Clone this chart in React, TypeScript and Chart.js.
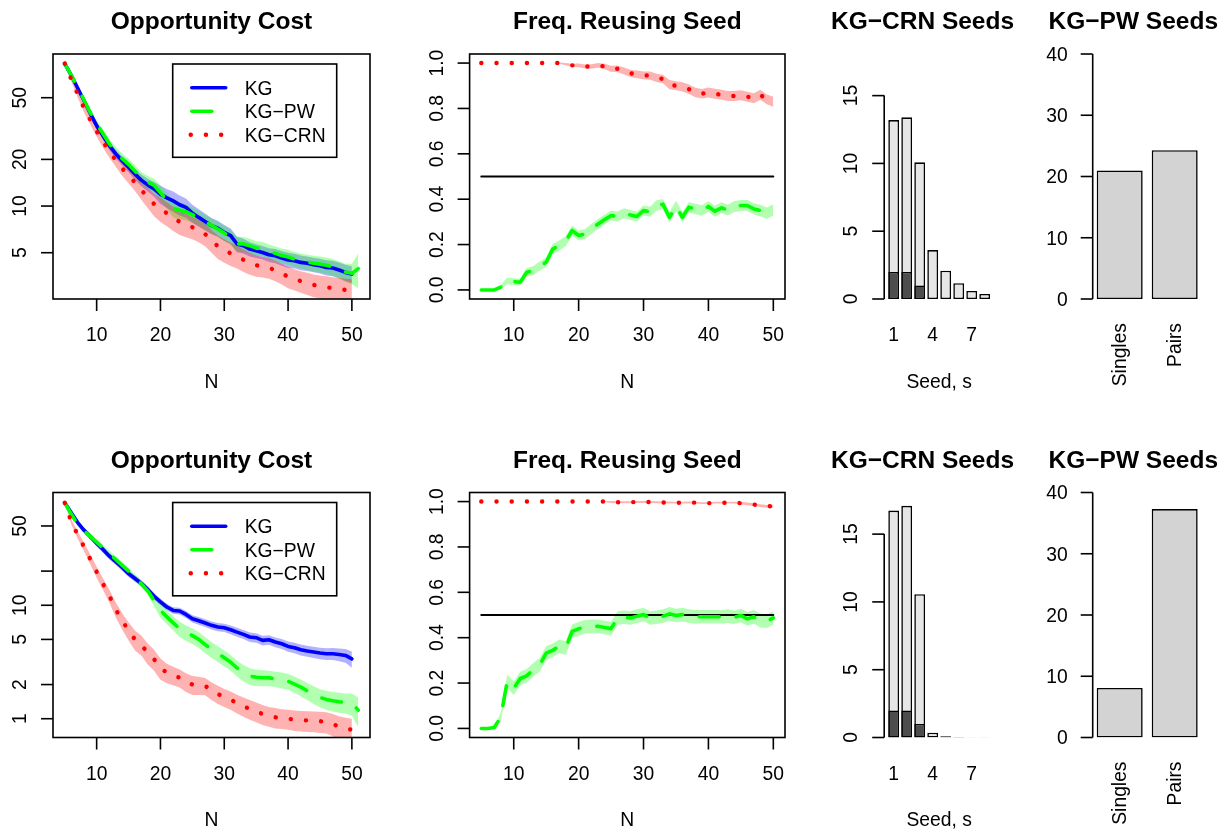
import React, { useEffect, useRef } from "react";
import { Chart, registerables } from "chart.js";

Chart.register(...registerables);

const W = 1229;
const H = 830;
const FAMILY = '"Liberation Sans", Arial, Helvetica, sans-serif';
const TICK_SIZE = 19.3;
const TITLE_SIZE = 24.5;
const ROW_SHIFT = 438.5;
const TICK_LEN = 12;
const AXIS_LW = 1.6;
const LINE_W = 3.6;
const DOT_W = 4.4;
const BAR_LW = 1.6;
const DASH = [20, 17];
const DOT = [0.1, 15.1];

// ---------------- data ----------------
const nKG = [5, 6, 7, 8, 9, 10, 11, 12, 13, 14, 15, 16, 17, 18, 19, 20, 21, 22, 23, 24, 25, 26, 27, 28, 29, 30, 31, 32, 33, 34, 35, 36, 37, 38, 39, 40, 41, 42, 43, 44, 45, 46, 47, 48, 49, 50];
const nPW = [5, 6, 7, 8, 9, 10, 11, 12, 13, 14, 15, 16, 17, 18, 19, 20, 21, 22, 23, 24, 25, 26, 27, 28, 29, 30, 31, 32, 33, 34, 35, 36, 37, 38, 39, 40, 41, 42, 43, 44, 45, 46, 47, 48, 49, 50, 51];

// Row 1: opportunity cost
const kgTop = [83, 70, 58, 48, 39.5, 33, 28.4, 24.5, 21.7, 19.6, 17.8, 16.1, 14.7, 13.7, 12.9, 11.9, 11.3, 10.8, 10.2, 9.8, 9.0, 8.45, 7.96, 7.47, 7.2, 6.76, 6.44, 5.69, 5.55, 5.28, 5.15, 5.02, 4.85, 4.78, 4.62, 4.49, 4.44, 4.33, 4.27, 4.19, 4.12, 4.02, 3.98, 3.87, 3.73, 3.64];
const kgTopSe = [0, 1.5, 2.2, 2.2, 2.0, 1.8, 1.6, 1.5, 1.4, 1.35, 1.3, 1.3, 1.3, 1.3, 1.4, 1.6, 1.6, 1.6, 1.5, 1.4, 1.2, 1.1, 1.0, 0.9, 0.85, 0.8, 0.72, 0.65, 0.6, 0.55, 0.52, 0.5, 0.5, 0.5, 0.5, 0.5, 0.48, 0.47, 0.46, 0.45, 0.45, 0.45, 0.45, 0.45, 0.45, 0.45];
const pwTop = [83, 70, 58.5, 48.5, 40, 34, 29.3, 25.2, 22.3, 20.2, 18.6, 16.8, 15.2, 14.3, 13.6, 12.2, 10.9, 9.7, 9.4, 9.2, 8.8, 8.4, 7.9, 7.5, 7.1, 6.7, 6.3, 5.7, 5.7, 5.55, 5.35, 5.3, 5.1, 4.95, 4.8, 4.7, 4.55, 4.45, 4.35, 4.28, 4.22, 4.15, 4.05, 3.9, 3.75, 3.68, 3.95];
const pwTopSe = [0, 1.5, 2.4, 2.4, 2.3, 2.1, 1.9, 1.8, 1.7, 1.6, 1.6, 1.5, 1.4, 1.4, 1.4, 1.4, 1.3, 1.25, 1.2, 1.1, 1.0, 0.95, 0.9, 0.85, 0.8, 0.75, 0.7, 0.65, 0.62, 0.6, 0.58, 0.56, 0.55, 0.54, 0.53, 0.52, 0.51, 0.5, 0.5, 0.5, 0.5, 0.5, 0.5, 0.5, 0.5, 0.55, 1.0];
const crnTop = [83, 66, 53, 43, 36, 30.4, 26, 22.5, 19.8, 17.5, 15.8, 14.2, 12.7, 11.4, 10.3, 9.6, 9.0, 8.4, 7.9, 7.6, 7.3, 7.0, 6.6, 6.0, 5.5, 5.2, 4.95, 4.75, 4.5, 4.3, 4.15, 4.08, 4.0, 3.85, 3.68, 3.5, 3.38, 3.28, 3.19, 3.1, 3.05, 3.0, 2.95, 2.91, 2.88, 2.85];
const crnTopSe = [0, 2, 2.5, 2.5, 2.4, 2.3, 2.2, 2.0, 1.9, 1.8, 1.75, 1.7, 1.7, 1.7, 1.7, 1.7, 1.6, 1.5, 1.4, 1.3, 1.2, 1.15, 1.1, 1.0, 0.95, 0.9, 0.85, 0.8, 0.75, 0.7, 0.65, 0.62, 0.6, 0.58, 0.56, 0.55, 0.53, 0.52, 0.52, 0.52, 0.52, 0.52, 0.52, 0.52, 0.52, 0.52];

// Row 2: opportunity cost
const kgBot = [80, 65.6, 53.8, 46, 40.3, 35.2, 31, 27.1, 24.2, 21.5, 19, 17.2, 15.6, 13.8, 12.0, 10.7, 9.66, 9.0, 8.9, 8.3, 7.6, 7.3, 6.97, 6.65, 6.43, 6.34, 6.09, 5.8, 5.54, 5.25, 5.18, 4.9, 4.97, 4.74, 4.58, 4.34, 4.22, 4.05, 3.95, 3.87, 3.79, 3.74, 3.74, 3.68, 3.61, 3.37];
const kgBotSe = [0, 2.0, 2.5, 2.5, 2.5, 2.3, 2.0, 1.8, 1.6, 1.4, 1.25, 1.1, 1.0, 0.9, 0.8, 0.7, 0.65, 0.6, 0.6, 0.58, 0.57, 0.56, 0.55, 0.55, 0.54, 0.54, 0.53, 0.52, 0.5, 0.5, 0.5, 0.48, 0.48, 0.47, 0.46, 0.45, 0.45, 0.45, 0.44, 0.44, 0.44, 0.44, 0.45, 0.47, 0.5, 0.55];
const pwBot = [80, 64, 52, 45.5, 40.5, 36, 32, 28.5, 25.3, 22.5, 20, 17.6, 15.5, 13.4, 11.0, 9.0, 7.9, 7.0, 6.2, 5.75, 5.4, 5.0, 4.5, 4.1, 3.75, 3.45, 3.15, 2.8, 2.55, 2.38, 2.32, 2.3, 2.29, 2.25, 2.2, 2.14, 2.02, 1.9, 1.76, 1.64, 1.54, 1.48, 1.44, 1.41, 1.39, 1.37, 1.19];
const pwBotSe = [0, 1.5, 2, 2.2, 2.2, 2.0, 1.9, 1.8, 1.6, 1.5, 1.3, 1.2, 1.1, 1.0, 1.2, 1.2, 1.1, 1.0, 0.95, 0.9, 0.85, 0.8, 0.72, 0.65, 0.6, 0.55, 0.5, 0.45, 0.42, 0.4, 0.38, 0.37, 0.36, 0.35, 0.35, 0.34, 0.33, 0.32, 0.3, 0.29, 0.28, 0.28, 0.28, 0.28, 0.28, 0.3, 0.35];
const crnBot = [80, 55, 42, 33, 25.5, 19.7, 15.4, 12.1, 9.2, 7.3, 6.0, 5.0, 4.5, 3.8, 3.35, 2.8, 2.55, 2.42, 2.3, 2.12, 2.0, 1.98, 1.95, 1.78, 1.65, 1.55, 1.47, 1.37, 1.29, 1.22, 1.16, 1.1, 1.06, 1.03, 1.01, 1.0, 0.98, 0.97, 0.965, 0.96, 0.95, 0.94, 0.9, 0.85, 0.82, 0.8];
const crnBotSe = [0, 3, 3, 2.8, 2.5, 2.2, 1.8, 1.6, 1.4, 1.2, 1.1, 1.0, 0.9, 0.8, 0.7, 0.6, 0.5, 0.45, 0.42, 0.4, 0.38, 0.36, 0.34, 0.32, 0.3, 0.28, 0.27, 0.26, 0.25, 0.24, 0.23, 0.22, 0.21, 0.21, 0.2, 0.2, 0.2, 0.2, 0.2, 0.2, 0.2, 0.2, 0.2, 0.2, 0.2, 0.2];

// Frequency of reusing a seed
const crnFreqTop = [1, 1, 1, 1, 1, 1, 1, 1, 1, 1, 1, 1, 1, 0.995, 0.99, 0.99, 0.985, 0.985, 0.99, 0.985, 0.975, 0.975, 0.965, 0.955, 0.95, 0.946, 0.945, 0.935, 0.93, 0.905, 0.9, 0.895, 0.885, 0.87, 0.865, 0.87, 0.865, 0.86, 0.855, 0.855, 0.858, 0.852, 0.845, 0.86, 0.84, 0.83];
const crnFreqTopSe = [0, 0, 0, 0, 0, 0, 0, 0, 0, 0, 0, 0, 0.003, 0.005, 0.007, 0.008, 0.009, 0.01, 0.01, 0.012, 0.013, 0.014, 0.015, 0.016, 0.017, 0.017, 0.018, 0.018, 0.019, 0.02, 0.02, 0.02, 0.021, 0.021, 0.021, 0.022, 0.022, 0.022, 0.022, 0.022, 0.022, 0.022, 0.022, 0.022, 0.022, 0.022];
const pwFreqTop = [0, 0, 0, 0.012, 0.04, 0.037, 0.034, 0.078, 0.085, 0.105, 0.122, 0.18, 0.196, 0.215, 0.262, 0.24, 0.247, 0.27, 0.291, 0.31, 0.328, 0.324, 0.338, 0.33, 0.324, 0.35, 0.345, 0.372, 0.378, 0.32, 0.37, 0.32, 0.365, 0.357, 0.35, 0.368, 0.347, 0.362, 0.352, 0.368, 0.372, 0.372, 0.357, 0.35, 0.338, 0.353];
const pwFreqTopSe = [0, 0, 0.003, 0.01, 0.015, 0.015, 0.015, 0.018, 0.02, 0.02, 0.021, 0.022, 0.022, 0.022, 0.022, 0.022, 0.022, 0.022, 0.022, 0.022, 0.022, 0.022, 0.022, 0.022, 0.022, 0.022, 0.022, 0.023, 0.023, 0.023, 0.023, 0.023, 0.023, 0.023, 0.023, 0.023, 0.024, 0.024, 0.024, 0.024, 0.024, 0.024, 0.025, 0.025, 0.025, 0.025];
const crnFreqBot = [1, 1, 1, 1, 1, 1, 1, 1, 1, 1, 1, 1, 1, 1, 1, 1, 1, 1, 1, 1, 0.998, 0.997, 0.997, 0.997, 0.998, 0.998, 0.998, 0.997, 0.996, 0.996, 0.995, 0.995, 0.996, 0.995, 0.993, 0.993, 0.995, 0.995, 0.995, 0.995, 0.993, 0.99, 0.987, 0.982, 0.979, 0.98];
const crnFreqBotSe = [0, 0, 0, 0, 0, 0, 0, 0, 0, 0, 0, 0, 0, 0, 0, 0, 0, 0, 0, 0.002, 0.004, 0.004, 0.004, 0.004, 0.004, 0.004, 0.004, 0.004, 0.004, 0.004, 0.004, 0.004, 0.004, 0.004, 0.004, 0.004, 0.004, 0.004, 0.004, 0.004, 0.006, 0.006, 0.006, 0.006, 0.006, 0.006];
const pwFreqBot = [0, 0, 0.004, 0.05, 0.207, 0.177, 0.22, 0.232, 0.258, 0.28, 0.332, 0.344, 0.362, 0.354, 0.428, 0.439, 0.448, 0.45, 0.45, 0.445, 0.44, 0.487, 0.49, 0.487, 0.495, 0.502, 0.487, 0.49, 0.495, 0.505, 0.498, 0.502, 0.495, 0.492, 0.492, 0.492, 0.492, 0.492, 0.495, 0.49, 0.498, 0.483, 0.492, 0.475, 0.473, 0.487];
const pwFreqBotSe = [0, 0, 0.005, 0.02, 0.03, 0.03, 0.03, 0.03, 0.03, 0.03, 0.03, 0.03, 0.03, 0.03, 0.03, 0.03, 0.03, 0.03, 0.03, 0.03, 0.03, 0.03, 0.03, 0.03, 0.03, 0.03, 0.03, 0.03, 0.03, 0.03, 0.03, 0.03, 0.03, 0.03, 0.03, 0.03, 0.03, 0.03, 0.03, 0.03, 0.03, 0.03, 0.03, 0.03, 0.03, 0.03];
const halfLine = [0.5, 0.5];
const halfLineN = [5, 50];

// Seeds
const seedCategories = ["1", "2", "3", "4", "5", "6", "7", "8"];
const seedTickLabels = ["1", "", "", "4", "", "", "7", ""];
const crnSeedsTop = [13.2, 13.4, 10.08, 3.61, 2.09, 1.16, 0.59, 0.37];
const crnReuseTop = [2.0, 2.0, 1.0, 0, 0, 0, 0, 0];
const crnSeedsBot = [16.74, 17.09, 10.57, 0.35, 0.1, 0.03, 0.02, 0.02];
const crnReuseBot = [2.0, 2.0, 1.0, 0, 0, 0, 0, 0];
const pwCategories = ["Singles", "Pairs"];
const pwSeedsTop = [21.0, 24.3];
const pwSeedsBot = [8.1, 37.3];

// Tick values and labels
const nTicks = [10, 20, 30, 40, 50];
const nTickLabels = ["10", "20", "30", "40", "50"];
const oppTicksTop = [5, 10, 20, 50];
const oppTickLabelsTop = ["5", "10", "20", "50"];
const oppTicksBot = [1, 2, 5, 10, 20, 50];
const oppTickLabelsBot = ["1", "2", "5", "10", "", "50"];
const freqTicks = [0, 0.2, 0.4, 0.6, 0.8, 1.0];
const freqTickLabels = ["0.0", "0.2", "0.4", "0.6", "0.8", "1.0"];
const crnTicks = [0, 5, 10, 15];
const crnTickLabels = ["0", "5", "10", "15"];
const pwTicks = [0, 10, 20, 30, 40];
const pwTickLabels = ["0", "10", "20", "30", "40"];
const legendLabels = ["KG", "KG\u2212PW", "KG\u2212CRN"];

// ---------------- styles ----------------
const BLUE = "#0000FF";
const GREEN = "#00FF00";
const RED = "#FF0000";
const BLUE_BAND = "rgba(0,0,255,0.3)";
const GREEN_BAND = "rgba(0,255,0,0.3)";
const RED_BAND = "rgba(255,0,0,0.3)";
const LIGHT_BAR = "#E6E6E6";
const DARK_BAR = "#4D4D4D";
const PW_BAR = "#D3D3D3";

type Box = { left: number; right: number; top: number; bottom: number };
const rowBox = (row: number, left: number, right: number): Box => ({
  left,
  right,
  top: 54 + row * ROW_SHIFT,
  bottom: 299 + row * ROW_SHIFT,
});

function drawText(
  ctx: CanvasRenderingContext2D,
  str: string,
  x: number,
  y: number,
  opt: { size?: number; bold?: boolean; align?: CanvasTextAlign; rot?: number } = {}
) {
  const { size = TICK_SIZE, bold = false, align = "center", rot = 0 } = opt;
  ctx.save();
  ctx.translate(x, y);
  if (rot) ctx.rotate(rot);
  ctx.font = `${bold ? "bold " : ""}${size}px ${FAMILY}`;
  ctx.textAlign = align;
  ctx.textBaseline = "alphabetic";
  ctx.fillStyle = "#000";
  ctx.fillText(str, 0, 0);
  ctx.restore();
}

function seg(ctx: CanvasRenderingContext2D, x0: number, y0: number, x1: number, y1: number) {
  ctx.beginPath();
  ctx.moveTo(x0, y0);
  ctx.lineTo(x1, y1);
  ctx.stroke();
}

function drawLegend(ctx: CanvasRenderingContext2D, dy: number) {
  const x0 = 172.7, x1 = 336.7, y0 = 64 + dy, y1 = 157.3 + dy;
  ctx.save();
  ctx.fillStyle = "#fff";
  ctx.fillRect(x0, y0, x1 - x0, y1 - y0);
  ctx.strokeStyle = "#000";
  ctx.lineWidth = AXIS_LW;
  ctx.setLineDash([]);
  ctx.strokeRect(x0, y0, x1 - x0, y1 - y0);
  const rows = [87.7, 111.3, 134.7];
  const colors = [BLUE, GREEN, RED];
  const dashes = [[], DASH, DOT];
  const widths = [LINE_W, LINE_W, DOT_W];
  legendLabels.forEach((lab, i) => {
    const y = rows[i] + dy;
    ctx.save();
    ctx.strokeStyle = colors[i];
    ctx.lineWidth = widths[i];
    ctx.lineCap = "round";
    ctx.setLineDash(dashes[i]);
    seg(ctx, i === 2 ? 190.7 : 191.8, y, 225.7, y);
    ctx.restore();
    drawText(ctx, lab, 244.7, y + 7, { align: "left" });
  });
  ctx.restore();
}

type LineSpec = {
  row: number;
  title: string;
  titleX: number;
  yTicks: number[];
  yTickLabels: string[];
  legend: boolean;
};

function linePanelPlugin(spec: LineSpec) {
  return {
    id: "rLinePanel",
    afterDraw(chart: any) {
      const ctx: CanvasRenderingContext2D = chart.ctx;
      const { left, right, top, bottom } = chart.chartArea;
      const xs = chart.scales.x;
      const ys = chart.scales.y;
      const dy = spec.row * ROW_SHIFT;
      ctx.save();
      ctx.strokeStyle = "#000";
      ctx.lineWidth = AXIS_LW;
      ctx.setLineDash([]);
      ctx.strokeRect(left, top, right - left, bottom - top);
      nTicks.forEach((v, i) => {
        const px = xs.getPixelForValue(v);
        seg(ctx, px, bottom, px, bottom + TICK_LEN);
        drawText(ctx, nTickLabels[i], px, 341 + dy);
      });
      spec.yTicks.forEach((v, i) => {
        const py = ys.getPixelForValue(v);
        seg(ctx, left, py, left - TICK_LEN, py);
        if (spec.yTickLabels[i]) drawText(ctx, spec.yTickLabels[i], left - 27, py, { rot: -Math.PI / 2 });
      });
      drawText(ctx, spec.title, spec.titleX, 29 + dy, { size: TITLE_SIZE, bold: true });
      drawText(ctx, "N", (left + right) / 2, 387.5 + dy);
      if (spec.legend) drawLegend(ctx, dy);
      ctx.restore();
    },
  };
}

type BarSpec = {
  row: number;
  title: string;
  titleX: number;
  axisX: number;
  yTicks: number[];
  yTickLabels: string[];
  yRot: boolean;
  xLabels: string[];
  xRot: boolean;
  xTitle: string;
  xTitleX: number;
};

function barPanelPlugin(spec: BarSpec) {
  return {
    id: "rBarPanel",
    afterDraw(chart: any) {
      const ctx: CanvasRenderingContext2D = chart.ctx;
      const xs = chart.scales.x;
      const ys = chart.scales.y;
      const dy = spec.row * ROW_SHIFT;
      ctx.save();
      ctx.strokeStyle = "#000";
      ctx.lineWidth = AXIS_LW;
      ctx.setLineDash([]);
      const yA = ys.getPixelForValue(spec.yTicks[0]);
      const yB = ys.getPixelForValue(spec.yTicks[spec.yTicks.length - 1]);
      seg(ctx, spec.axisX, yA, spec.axisX, yB);
      spec.yTicks.forEach((v, i) => {
        const py = ys.getPixelForValue(v);
        seg(ctx, spec.axisX, py, spec.axisX - TICK_LEN, py);
        if (spec.yRot) drawText(ctx, spec.yTickLabels[i], spec.axisX - 27, py, { rot: -Math.PI / 2 });
        else drawText(ctx, spec.yTickLabels[i], spec.axisX - 25, py + 6.9, { align: "right" });
      });
      spec.xLabels.forEach((lab, i) => {
        if (!lab) return;
        const px = xs.getPixelForValue(i);
        if (spec.xRot) drawText(ctx, lab, px + 6.5, 323 + dy, { align: "right", rot: -Math.PI / 2 });
        else drawText(ctx, lab, px, 341 + dy);
      });
      drawText(ctx, spec.title, spec.titleX, 29 + dy, { size: TITLE_SIZE, bold: true });
      if (spec.xTitle) drawText(ctx, spec.xTitle, spec.xTitleX, 387.5 + dy);
      ctx.restore();
    },
  };
}

function baseOptions(b: Box, scales: any) {
  return {
    animation: false,
    responsive: false,
    maintainAspectRatio: false,
    events: [],
    layout: { padding: { left: b.left, top: b.top, right: W - b.right, bottom: H - b.bottom } },
    plugins: { legend: { display: false }, title: { display: false }, tooltip: { enabled: false } },
    scales,
  };
}

const pts = (xs: number[], ys: number[]) => xs.map((x, i) => ({ x, y: ys[i] }));

function lineSet(xs: number[], ys: number[], color: string, dash: number[], order: number, width = LINE_W) {
  return {
    data: pts(xs, ys),
    borderColor: color,
    backgroundColor: color,
    borderWidth: width,
    borderDash: dash,
    borderCapStyle: "round",
    borderJoinStyle: "round",
    pointRadius: 0,
    pointHoverRadius: 0,
    fill: false,
    tension: 0,
    order,
  };
}

function bandSets(xs: number[], mean: number[], se: number[], color: string, order: number) {
  const hi = xs.map((x, i) => ({ x, y: mean[i] + se[i] }));
  const lo = xs.map((x, i) => ({ x, y: mean[i] - se[i] }));
  const common = { borderWidth: 0, borderColor: "rgba(0,0,0,0)", pointRadius: 0, pointHoverRadius: 0, tension: 0, order };
  return [
    { ...common, data: hi, fill: "+1", backgroundColor: color },
    { ...common, data: lo, fill: false, backgroundColor: "rgba(0,0,0,0)" },
  ];
}

function oppPanel(row: number, kg: number[], kgSe: number[], pw: number[], pwSe: number[], crn: number[], crnSe: number[], yMin: number, yMax: number, yTicks: number[], yTickLabels: string[]) {
  return () => ({
    type: "line",
    data: {
      datasets: [
        lineSet(nKG, crn, RED, DOT, 0, DOT_W),
        lineSet(nPW, pw, GREEN, DASH, 1),
        lineSet(nKG, kg, BLUE, [], 2),
        ...bandSets(nKG, kg, kgSe, BLUE_BAND, 12),
        ...bandSets(nPW, pw, pwSe, GREEN_BAND, 11),
        ...bandSets(nKG, crn, crnSe, RED_BAND, 10),
      ],
    },
    options: baseOptions(rowBox(row, 53, 370), {
      x: { type: "linear", min: 3.16, max: 52.84, display: false },
      y: { type: "logarithmic", min: yMin, max: yMax, display: false },
    }),
    plugins: [linePanelPlugin({ row, title: "Opportunity Cost", titleX: 211.5, yTicks, yTickLabels, legend: true })],
  });
}

function freqPanel(row: number, pw: number[], pwSe: number[], crn: number[], crnSe: number[]) {
  return () => ({
    type: "line",
    data: {
      datasets: [
        lineSet(nKG, crn, RED, DOT, 0, DOT_W),
        lineSet(nKG, pw, GREEN, DASH, 1),
        lineSet(halfLineN, halfLine, "#000000", [], 3, 2),
        ...bandSets(nKG, pw, pwSe, GREEN_BAND, 11),
        ...bandSets(nKG, crn, crnSe, RED_BAND, 10),
      ],
    },
    options: baseOptions(rowBox(row, 469.6, 785.0), {
      x: { type: "linear", min: 3.2, max: 51.8, display: false },
      y: { type: "linear", min: -0.04, max: 1.04, display: false },
    }),
    plugins: [linePanelPlugin({ row, title: "Freq. Reusing Seed", titleX: 627.3, yTicks: freqTicks, yTickLabels: freqTickLabels, legend: false })],
  });
}

function crnPanel(row: number, total: number[], reuse: number[]) {
  const common = {
    borderColor: "#000",
    borderWidth: BAR_LW,
    borderSkipped: false,
    grouped: false,
    barPercentage: 0.833,
    categoryPercentage: 1,
  };
  return () => ({
    type: "bar",
    data: {
      labels: seedCategories,
      datasets: [
        { ...common, data: reuse, backgroundColor: DARK_BAR, order: 0 },
        { ...common, data: total, backgroundColor: LIGHT_BAR, order: 1 },
      ],
    },
    options: baseOptions(rowBox(row, 887.2, 991.2), {
      x: { type: "category", offset: true, display: false },
      y: { type: "linear", min: 0, max: 18.07, display: false },
    }),
    plugins: [
      barPanelPlugin({
        row,
        title: "KG\u2212CRN Seeds",
        titleX: 922.5,
        axisX: 884.2,
        yTicks: crnTicks,
        yTickLabels: crnTickLabels,
        yRot: true,
        xLabels: seedTickLabels,
        xRot: false,
        xTitle: "Seed, s",
        xTitleX: 939.2,
      }),
    ],
  });
}

function pwPanel(row: number, vals: number[]) {
  return () => ({
    type: "bar",
    data: {
      labels: pwCategories,
      datasets: [
        {
          data: vals,
          backgroundColor: PW_BAR,
          borderColor: "#000",
          borderWidth: BAR_LW,
          borderSkipped: false,
          barPercentage: 0.836,
          categoryPercentage: 1,
        },
      ],
    },
    options: baseOptions(rowBox(row, 1092.2, 1202.2), {
      x: { type: "category", offset: true, display: false },
      y: { type: "linear", min: 0, max: 40, display: false },
    }),
    plugins: [
      barPanelPlugin({
        row,
        title: "KG\u2212PW Seeds",
        titleX: 1133.3,
        axisX: 1092.7,
        yTicks: pwTicks,
        yTickLabels: pwTickLabels,
        yRot: false,
        xLabels: pwCategories,
        xRot: true,
        xTitle: "",
        xTitleX: 0,
      }),
    ],
  });
}

const PANELS = [
  oppPanel(0, kgTop, kgTopSe, pwTop, pwTopSe, crnTop, crnTopSe, 2.514, 95.7, oppTicksTop, oppTickLabelsTop),
  freqPanel(0, pwFreqTop, pwFreqTopSe, crnFreqTop, crnFreqTopSe),
  crnPanel(0, crnSeedsTop, crnReuseTop),
  pwPanel(0, pwSeedsTop),
  oppPanel(1, kgBot, kgBotSe, pwBot, pwBotSe, crnBot, crnBotSe, 0.683, 98.6, oppTicksBot, oppTickLabelsBot),
  freqPanel(1, pwFreqBot, pwFreqBotSe, crnFreqBot, crnFreqBotSe),
  crnPanel(1, crnSeedsBot, crnReuseBot),
  pwPanel(1, pwSeedsBot),
];

function ChartCanvas({ make }: { make: () => any }) {
  const ref = useRef<HTMLCanvasElement | null>(null);
  useEffect(() => {
    if (!ref.current) return;
    const chart = new Chart(ref.current, make());
    return () => chart.destroy();
  }, [make]);
  return (
    <canvas
      ref={ref}
      width={W}
      height={H}
      style={{ position: "absolute", left: 0, top: 0, width: W, height: H }}
    />
  );
}

export default function App() {
  return (
    <div style={{ position: "absolute", left: 0, top: 0, width: W, height: H, background: "#fff", overflow: "hidden" }}>
      {PANELS.map((make, i) => (
        <ChartCanvas key={i} make={make} />
      ))}
    </div>
  );
}
